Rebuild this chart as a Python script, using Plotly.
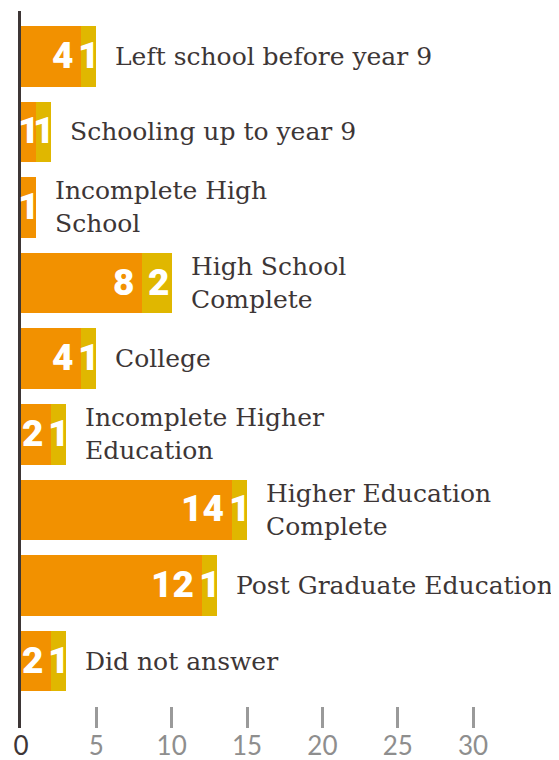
import plotly.graph_objects as go

categories = [
    "Left school before year 9",
    "Schooling up to year 9",
    "Incomplete High<br>School",
    "High School<br>Complete",
    "College",
    "Incomplete Higher<br>Education",
    "Higher Education<br>Complete",
    "Post Graduate Education",
    "Did not answer",
]
series_a = [4, 1, 1, 8, 4, 2, 14, 12, 2]
series_b = [1, 1, 0, 2, 1, 1, 1, 1, 1]
tick_vals = [0, 5, 10, 15, 20, 25, 30]
tick_labels = ["0", "5", "10", "15", "20", "25", "30"]

ORANGE = "#F29100"
YELLOW = "#E0B700"
DARK = "#3d3636"
GRAY = "#8e8e8e"
VALUE_FONT = dict(family="Roboto", size=37, color="white", weight=900)

# the page body adds an 8px margin around the figure; size the figure to fit the window
PAGE_OFFSET = 8

ypos = list(range(len(categories)))

fig = go.Figure()
fig.add_trace(go.Bar(
    y=ypos, x=series_a, orientation="h",
    marker=dict(color=ORANGE, line=dict(width=0)), hoverinfo="skip",
))
fig.add_trace(go.Bar(
    y=ypos, x=series_b, orientation="h",
    marker=dict(color=YELLOW, line=dict(width=0)), hoverinfo="skip",
))


def add_value(start, value, y, shift):
    if not value:
        return
    if value == 1:
        fig.add_annotation(x=start + value / 2, y=y, text=str(value), showarrow=False,
                           xanchor="center", yanchor="middle", yshift=1, font=VALUE_FONT)
    else:
        fig.add_annotation(x=start + value, y=y, text=str(value), showarrow=False,
                           xanchor="right", yanchor="middle", xshift=shift, yshift=1,
                           font=VALUE_FONT)


for i, cat in enumerate(categories):
    a, b = series_a[i], series_b[i]
    add_value(0, a, ypos[i], -6)
    add_value(a, b, ypos[i], -1)
    fig.add_annotation(
        x=a + b, y=ypos[i], text=cat, showarrow=False,
        xanchor="left", yanchor="middle", align="left", xshift=17,
        font=dict(family="DejaVu Serif", size=25, color=DARK),
    )

ticktext = [f'<span style="color:{DARK}">{t}</span>' if t == "0" else t for t in tick_labels]

fig.update_layout(
    width=559 - PAGE_OFFSET, height=760 - PAGE_OFFSET, barmode="stack", bargap=0.2,
    showlegend=False,
    margin=dict(l=21 - PAGE_OFFSET, r=0, t=11 - PAGE_OFFSET, b=32),
    paper_bgcolor="white", plot_bgcolor="white",
    xaxis=dict(range=[0, 35.7], tickvals=tick_vals, ticktext=ticktext,
               ticks="inside", ticklen=21, tickwidth=2.5, tickcolor="#9a9a9a",
               showgrid=False, zeroline=False, showline=False, automargin=False,
               tickfont=dict(family="Lato", size=26, color=GRAY)),
    yaxis=dict(range=[8.885, -0.599], showticklabels=False, ticks="",
               showgrid=False, zeroline=False, showline=True, automargin=False,
               linecolor=DARK, linewidth=2.5),
)

fig.write_html("out.html")
